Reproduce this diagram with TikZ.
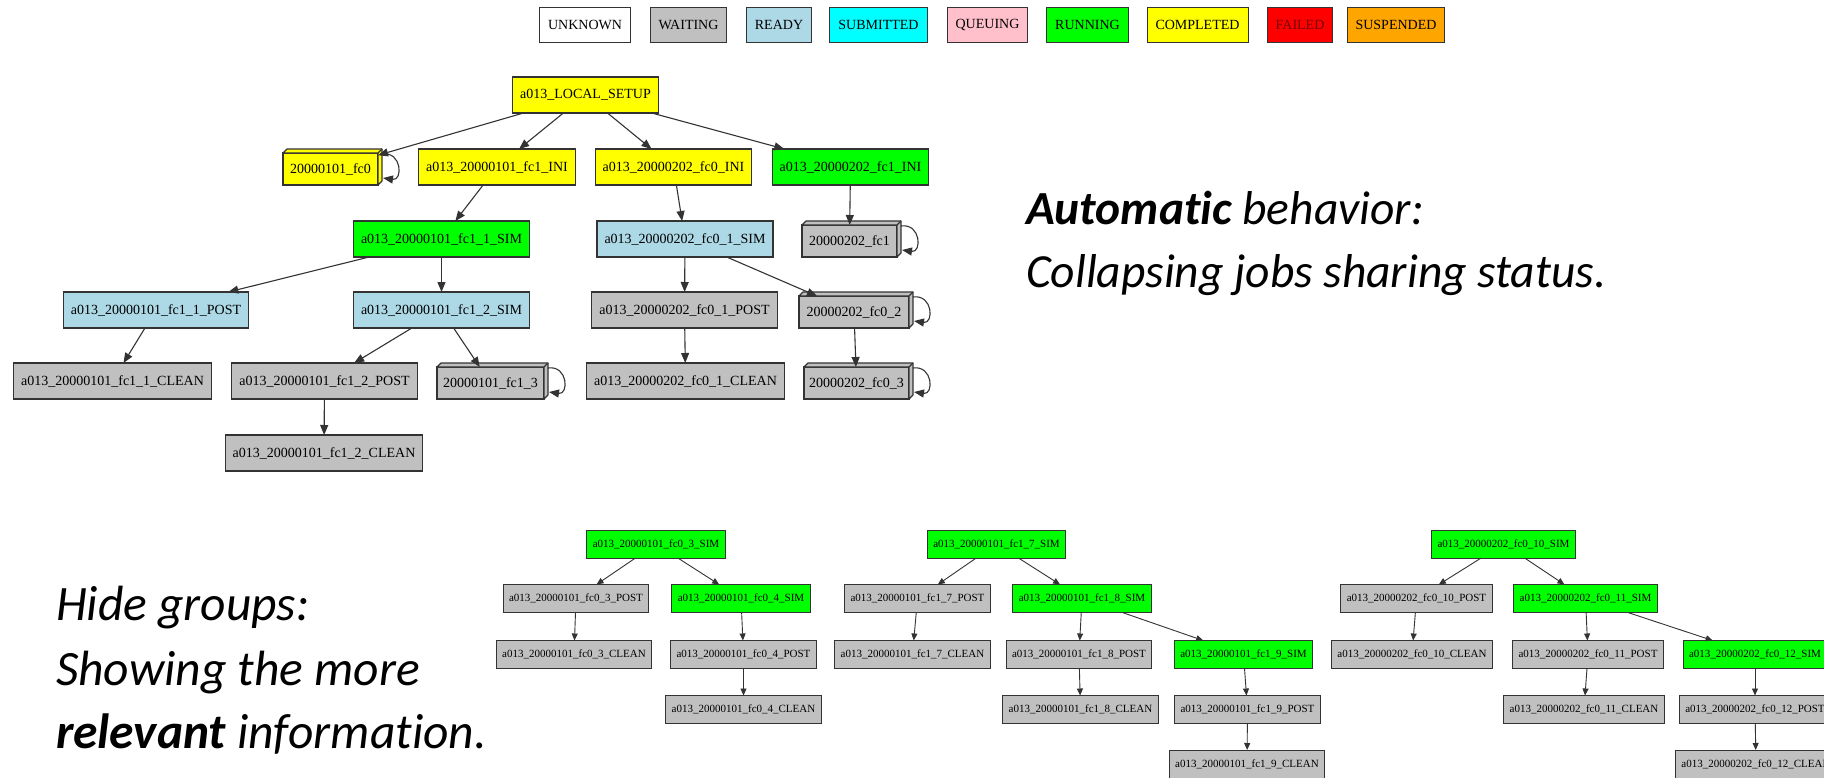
\documentclass[tikz,border=0pt]{standalone}
\usepackage{fontspec}
\setmainfont{Liberation Serif}
\newfontfamily\slidefont[Ligatures=NoCommon]{Carlito}
\usetikzlibrary{arrows.meta}

\definecolor{waiting}{HTML}{C0C0C0}
\definecolor{ready}{HTML}{ADD8E6}
\definecolor{submitted}{HTML}{00FFFF}
\definecolor{queuing}{HTML}{FFC0CB}
\definecolor{running}{HTML}{00FF00}
\definecolor{completed}{HTML}{FFFF00}
\definecolor{failed}{HTML}{FF0000}
\definecolor{suspended}{HTML}{FFA500}
\definecolor{edgegray}{HTML}{333333}

% top and right faces of a 3D job box (the node itself is the front face)
\newcommand{\boxfaces}[2]{%
  \filldraw[fill=#2, draw=edgegray, line width=1.1bp, line join=round]
    (#1.north west) -- ++(4,-4) -- ([shift={(4,-4)}]#1.north east)
    -- ([shift={(4,-4)}]#1.south east) -- (#1.south east) -- (#1.north east) -- cycle;
  \draw[edgegray, line width=1.1bp] (#1.north east) -- ++(4,-4);}
% self dependency loop on the right side of a 3D job box
\newcommand{\selfloop}[1]{%
  \draw[dep] ([shift={(4,1)}]#1.north east) .. controls +(20,-3) and +(20,3) .. ([shift={(5,-7)}]#1.south east);}

\begin{document}
\begin{tikzpicture}[x=1bp,y=-1bp,
  every node/.style={inner sep=0pt, outer sep=0pt},
  legendbox/.style={draw=edgegray, line width=1bp, minimum height=35bp, inner xsep=8.5bp,
    font=\fontsize{14bp}{16bp}\selectfont},
  job/.style={draw=edgegray, line width=1.1bp, minimum height=36bp, inner xsep=7.5bp,
    font=\fontsize{14bp}{16bp}\selectfont},
  front/.style={job, minimum height=32bp, inner xsep=0bp},
  mini/.style={draw=edgegray, line width=0.9bp, minimum height=28bp, inner xsep=6bp,
    font=\fontsize{11bp}{13bp}\selectfont},
  dep/.style={draw=edgegray, line width=1.1bp, -{Triangle[length=10bp,width=8bp]}},
  minidep/.style={draw=edgegray, line width=0.9bp, -{Triangle[length=7bp,width=6bp]}},
  note/.style={anchor=base west, font=\slidefont\fontsize{47.5bp}{57bp}\selectfont\itshape},
  bignote/.style={note, font=\slidefont\fontsize{49.5bp}{59bp}\selectfont\itshape},
]
\useasboundingbox (0,0) rectangle (1824,778);
\fill[white] (0,0) rectangle (1824,778);
\clip (0,0) rectangle (1824,778);

% ---------- status legend ----------
\node[legendbox, fill=white]     (lunknown)   at (585,25)    {UNKNOWN};
\node[legendbox, fill=waiting]   (lwaiting)   at (688.5,25)  {WAITING};
\node[legendbox, fill=ready]     (lready)     at (779,25)    {READY};
\node[legendbox, fill=submitted] (lsubmitted) at (878.5,25)  {SUBMITTED};
\node[legendbox, fill=queuing]   (lqueuing)   at (987.5,25)  {QUEUING};
\node[legendbox, fill=running]   (lrunning)   at (1087.5,25) {RUNNING};
\node[legendbox, fill=completed] (lcompleted) at (1197.5,25) {COMPLETED};
\node[legendbox, fill=failed, text=red!45!black] (lfailed) at (1300,25) {FAILED};
\node[legendbox, fill=suspended] (lsuspended) at (1396,25)   {SUSPENDED};

% ---------- collapsed workflow ----------
\node[job, fill=completed] (setup)   at (585.5,95) {a013\_LOCAL\_SETUP};

\node[front, fill=completed, minimum width=95bp] (fc0) at (330.5,169) {20000101\_fc0};
\node[job, fill=completed] (fcaini)  at (497,167)   {a013\_20000101\_fc1\_INI};
\node[job, fill=completed] (fcbini)  at (673.5,167) {a013\_20000202\_fc0\_INI};
\node[job, fill=running]   (fccini)  at (850.5,167) {a013\_20000202\_fc1\_INI};

\node[job, fill=running]   (simaa)   at (441.5,239) {a013\_20000101\_fc1\_1\_SIM};
\node[job, fill=ready]     (simba)   at (685,239)   {a013\_20000202\_fc0\_1\_SIM};
\node[front, fill=waiting, minimum width=95bp] (fcc) at (849.5,241) {20000202\_fc1};

\node[job, fill=ready]     (postaa)  at (156,310)   {a013\_20000101\_fc1\_1\_POST};
\node[job, fill=ready]     (simab)   at (441.5,310) {a013\_20000101\_fc1\_2\_SIM};
\node[job, fill=waiting]   (postba)  at (684.5,310) {a013\_20000202\_fc0\_1\_POST};
\node[front, fill=waiting, minimum width=110bp] (fcbtwo) at (854,312) {20000202\_fc0\_2};

\node[job, fill=waiting]   (cleanaa) at (112.5,381) {a013\_20000101\_fc1\_1\_CLEAN};
\node[job, fill=waiting]   (postab)  at (324.5,381) {a013\_20000101\_fc1\_2\_POST};
\node[front, fill=waiting, minimum width=107bp] (fcathree) at (490.5,383) {20000101\_fc1\_3};
\node[job, fill=waiting]   (cleanba) at (685.5,381) {a013\_20000202\_fc0\_1\_CLEAN};
\node[front, fill=waiting, minimum width=105bp] (fcbthree) at (856.5,383) {20000202\_fc0\_3};

\node[job, fill=waiting]   (cleanab) at (324,453)   {a013\_20000101\_fc1\_2\_CLEAN};

\boxfaces{fc0}{completed}
\boxfaces{fcc}{waiting}
\boxfaces{fcbtwo}{waiting}
\boxfaces{fcathree}{waiting}
\boxfaces{fcbthree}{waiting}

\draw[dep] (setup) -- (fc0);
\draw[dep] (setup) -- (fcaini);
\draw[dep] (setup) -- (fcbini);
\draw[dep] (setup) -- (fccini);
\draw[dep] (fcaini) -- (simaa);
\draw[dep] (fcbini) -- (simba);
\draw[dep] (fccini) -- (fcc);
\draw[dep] (simaa) -- (postaa);
\draw[dep] (simaa) -- (simab);
\draw[dep] (simba) -- (postba);
\draw[dep] (simba) -- (fcbtwo);
\draw[dep] (postaa) -- (cleanaa);
\draw[dep] (simab) -- (postab);
\draw[dep] (simab) -- (fcathree);
\draw[dep] (postba) -- (cleanba);
\draw[dep] (fcbtwo) -- (fcbthree);
\draw[dep] (postab) -- (cleanab);

\selfloop{fc0}
\selfloop{fcc}
\selfloop{fcbtwo}
\selfloop{fcathree}
\selfloop{fcbthree}

% ---------- notes ----------
\node[note] (autoa) at (1026,224) {\textbf{Automatic} behavior:};
\node[note] (autob) at (1026,287) {Collapsing jobs sharing status.};
\node[bignote] (hidea) at (56,620) {Hide groups:};
\node[bignote] (hideb) at (56,685) {Showing the more};
\node[bignote] (hidec) at (56,748) {\textbf{relevant} information.};

% ---------- grouped view ----------
% group fc0_3
\node[mini, fill=running] (asimthree)   at (656,544)    {a013\_20000101\_fc0\_3\_SIM};
\node[mini, fill=waiting] (aposthree)   at (576,598.5)  {a013\_20000101\_fc0\_3\_POST};
\node[mini, fill=running] (asimfour)    at (741,598.5)  {a013\_20000101\_fc0\_4\_SIM};
\node[mini, fill=waiting] (acleanthree) at (574,654.5)  {a013\_20000101\_fc0\_3\_CLEAN};
\node[mini, fill=waiting] (apostfour)   at (743.5,654.5){a013\_20000101\_fc0\_4\_POST};
\node[mini, fill=waiting] (acleanfour)  at (743.5,709.5){a013\_20000101\_fc0\_4\_CLEAN};
\draw[minidep] (asimthree) -- (aposthree);
\draw[minidep] (asimthree) -- (asimfour);
\draw[minidep] (aposthree) -- (acleanthree);
\draw[minidep] (asimfour) -- (apostfour);
\draw[minidep] (apostfour) -- (acleanfour);

% group fc1_7
\node[mini, fill=running] (bsimseven)   at (996.5,544)   {a013\_20000101\_fc1\_7\_SIM};
\node[mini, fill=waiting] (bpostseven)  at (917.5,598.5) {a013\_20000101\_fc1\_7\_POST};
\node[mini, fill=running] (bsimeight)   at (1082,598.5)  {a013\_20000101\_fc1\_8\_SIM};
\node[mini, fill=waiting] (bcleanseven) at (912.5,654.5) {a013\_20000101\_fc1\_7\_CLEAN};
\node[mini, fill=waiting] (bposteight)  at (1079,654.5)  {a013\_20000101\_fc1\_8\_POST};
\node[mini, fill=running] (bsimnine)    at (1243.5,654.5){a013\_20000101\_fc1\_9\_SIM};
\node[mini, fill=waiting] (bcleaneight) at (1080.5,709.5){a013\_20000101\_fc1\_8\_CLEAN};
\node[mini, fill=waiting] (bpostnine)   at (1247.5,709.5){a013\_20000101\_fc1\_9\_POST};
\node[mini, fill=waiting] (bcleannine)  at (1247,764)    {a013\_20000101\_fc1\_9\_CLEAN};
\draw[minidep] (bsimseven) -- (bpostseven);
\draw[minidep] (bsimseven) -- (bsimeight);
\draw[minidep] (bpostseven) -- (bcleanseven);
\draw[minidep] (bsimeight) -- (bposteight);
\draw[minidep] (bsimeight) -- (bsimnine);
\draw[minidep] (bposteight) -- (bcleaneight);
\draw[minidep] (bsimnine) -- (bpostnine);
\draw[minidep] (bpostnine) -- (bcleannine);

% group fc0_10
\node[mini, fill=running] (csimten)      at (1503.5,544)   {a013\_20000202\_fc0\_10\_SIM};
\node[mini, fill=waiting] (cpostten)     at (1416.5,598.5) {a013\_20000202\_fc0\_10\_POST};
\node[mini, fill=running] (csimeleven)   at (1585.5,598.5) {a013\_20000202\_fc0\_11\_SIM};
\node[mini, fill=waiting] (ccleanten)    at (1412,654.5)   {a013\_20000202\_fc0\_10\_CLEAN};
\node[mini, fill=waiting] (cposteleven)  at (1588,654.5)   {a013\_20000202\_fc0\_11\_POST};
\node[mini, fill=running] (csimtwelve)   at (1755,654.5)   {a013\_20000202\_fc0\_12\_SIM};
\node[mini, fill=waiting] (ccleaneleven) at (1584,709.5)   {a013\_20000202\_fc0\_11\_CLEAN};
\node[mini, fill=waiting] (cposttwelve)  at (1755,709.5)   {a013\_20000202\_fc0\_12\_POST};
\node[mini, fill=waiting] (ccleantwelve) at (1756,764)     {a013\_20000202\_fc0\_12\_CLEAN};
\draw[minidep] (csimten) -- (cpostten);
\draw[minidep] (csimten) -- (csimeleven);
\draw[minidep] (cpostten) -- (ccleanten);
\draw[minidep] (csimeleven) -- (cposteleven);
\draw[minidep] (csimeleven) -- (csimtwelve);
\draw[minidep] (cposteleven) -- (ccleaneleven);
\draw[minidep] (csimtwelve) -- (cposttwelve);
\draw[minidep] (cposttwelve) -- (ccleantwelve);
\end{tikzpicture}
\end{document}
